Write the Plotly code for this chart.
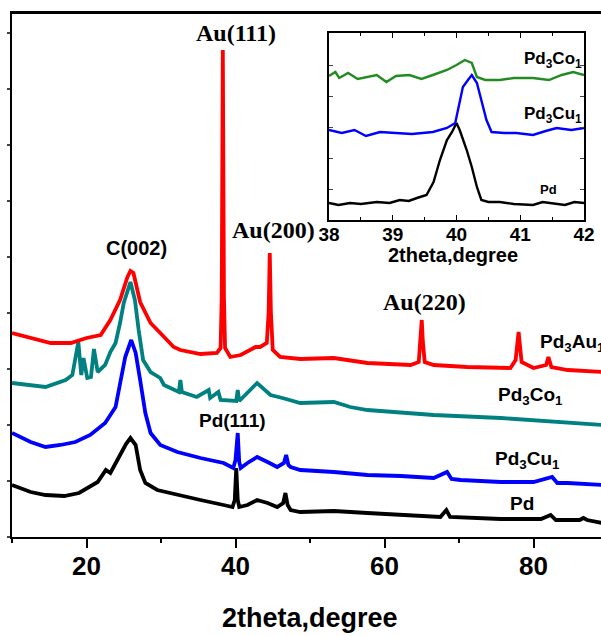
import plotly.graph_objects as go

# ---------------- main pattern data (2theta, intensity a.u., offset-stacked) ----------------
pd_x = [10, 11, 12.5, 14.5, 17, 19, 20.5, 21.5, 22.6, 23.2, 24, 24.6, 25.3, 25.9, 26.6, 27.2, 27.9,
        29.5, 32.2, 35.3, 38.4, 39.6, 39.9, 40.1, 40.3, 40.5, 41.6, 42.9, 44.3, 45.6, 46.4, 46.7,
        47.0, 47.4, 48.7, 53.2, 57.7, 62.2, 67.5, 68.3, 68.8, 75.6, 81, 82.3, 83, 86.2, 86.7, 87.2, 89.2]
pd_y = [52, 49, 45, 42, 41, 44, 51, 55, 67, 64, 75, 84, 93, 99, 92, 67, 54,
        47, 42, 37, 32, 30, 37, 69, 37, 30, 32, 37, 34, 30, 34, 44,
        32, 27, 25, 26, 24, 22, 20, 27, 20, 18, 18, 22, 17, 17, 19, 17, 14]

cu_x = [10, 12.5, 14.5, 16.5, 18.5, 20.5, 22.5, 23.9, 24.6, 25.2, 26.0, 26.6, 27.2, 27.9, 28.6,
        29.9, 32.2, 35.3, 38.4, 39.7, 40.0, 40.3, 40.5, 40.7, 41.6, 42.9, 44.3, 45.6, 46.5, 46.8,
        47.1, 47.4, 48.7, 53.2, 57.7, 62.2, 66.6, 68.4, 69, 70.2, 75.6, 80, 82.5, 83.2, 84.6, 89.2]
cu_y = [104, 95, 90, 92, 95, 102, 114, 130, 157, 180, 197, 184, 157, 124, 104,
        92, 85, 79, 74, 69, 77, 104, 75, 69, 74, 80, 75, 70, 74, 82,
        72, 70, 67, 65, 62, 61, 59, 65, 58, 57, 55, 55, 60, 54, 54, 52]

co_x = [10, 12, 14.5, 17.2, 18.1, 18.9, 19.3, 19.6, 20.1, 20.6, 21.0, 21.5, 22.5, 23.2, 23.9,
        24.5, 25.0, 25.9, 26.5, 27.0, 27.6, 28.6, 29.9, 30.4, 32.4, 32.6, 32.8, 34.8, 36.4,
        36.6, 37.7, 38.0, 40.1, 40.3, 40.5, 42.9, 44.7, 46.3, 48.7, 53.2, 55.4, 57.7, 62.2,
        66.6, 75.6, 84.6, 89.2]
co_y = [154, 152, 150, 157, 162, 195, 162, 179, 159, 160, 188, 165, 172, 185, 194,
        214, 234, 255, 237, 207, 177, 165, 159, 152, 145, 157, 145, 140, 147,
        139, 145, 137, 136, 147, 136, 154, 142, 139, 134, 135, 130, 127, 124,
        122, 119, 115, 112]

au_x = [10, 12.5, 15.2, 17.9, 20, 21.9, 23.2, 24.5, 25.5, 25.9, 26.3, 27.2, 28.6, 29.9, 31.7,
        32.6, 35.3, 37.5, 38.0, 38.15, 38.3, 38.45, 38.6, 39.3, 40.7, 42.7, 43.3, 44.2, 44.45,
        44.6, 44.75, 45.0, 46.0, 48.7, 53.2, 57.7, 63.5, 64.6, 64.85, 65.0, 65.15, 65.4, 66.6,
        71.1, 76.9, 77.6, 78.0, 78.4, 80, 81.7, 82.0, 82.4, 84.6, 89.2]
au_y = [204, 199, 194, 194, 199, 202, 217, 237, 260, 266, 264, 235, 214, 204, 190,
        187, 183, 184, 189, 240, 487, 240, 189, 180, 182, 190, 190, 194, 225,
        284, 225, 187, 180, 178, 179, 174, 172, 175, 195, 217, 195, 175, 172,
        170, 169, 177, 205, 175, 169, 172, 180, 170, 167, 165]

# ---------------- inset data (38-42 degrees) ----------------
in_pd_x = [38.0, 38.15, 38.33, 38.5, 38.75, 38.95, 39.11, 39.25, 39.38, 39.53, 39.64, 39.74,
           39.85, 39.93, 40.0, 40.05, 40.16, 40.24, 40.32, 40.39, 40.5, 40.68, 40.9, 41.2,
           41.35, 41.5, 41.7, 41.85, 42.0]
in_pd_y = [17, 15, 17, 16, 18, 17, 20, 19, 22, 25, 38, 60, 80, 88, 97, 90, 70, 53, 33, 20,
           18, 18, 16, 15, 18, 17, 15, 18, 17]

in_cu_x = [38.0, 38.2, 38.4, 38.58, 38.8, 39.11, 39.3, 39.63, 39.85, 39.98, 40.05, 40.1, 40.18,
           40.24, 40.32, 40.39, 40.47, 40.55, 40.75, 40.94, 41.2, 41.4, 41.57, 41.8, 42.0]
in_cu_y = [90, 87, 90, 84, 88, 87, 86, 88, 92, 97, 120, 133, 140, 145, 137, 120, 100, 88, 87,
           87, 85, 89, 92, 90, 92]

in_co_x = [38.0, 38.1, 38.16, 38.3, 38.45, 38.58, 38.75, 38.9, 39.05, 39.26, 39.45, 39.63,
           39.75, 39.85, 40.0, 40.13, 40.24, 40.32, 40.45, 40.68, 40.9, 41.2, 41.45, 41.65,
           41.83, 42.0]
in_co_y = [144, 148, 142, 147, 141, 143, 145, 138, 144, 145, 141, 145, 148, 150, 155, 160, 157,
           143, 140, 140, 142, 142, 140, 145, 148, 145]

main_ticks = [20, 40, 60, 80]
inset_ticks = [38, 39, 40, 41, 42]

RED = "rgb(255,0,0)"
TEAL = "rgb(0,128,128)"
BLUE = "rgb(0,0,255)"
BLACK = "rgb(0,0,0)"
GREEN = "rgb(34,139,34)"

fig = go.Figure()
for xs, ys, c in [(pd_x, pd_y, BLACK), (cu_x, cu_y, BLUE), (co_x, co_y, TEAL), (au_x, au_y, RED)]:
    fig.add_trace(go.Scatter(x=xs, y=ys, mode="lines", line=dict(color=c, width=3.8),
                             xaxis="x", yaxis="y", showlegend=False, hoverinfo="skip"))
for xs, ys, c in [(in_pd_x, in_pd_y, BLACK), (in_cu_x, in_cu_y, BLUE), (in_co_x, in_co_y, GREEN)]:
    fig.add_trace(go.Scatter(x=xs, y=ys, mode="lines", line=dict(color=c, width=2.4),
                             xaxis="x2", yaxis="y2", showlegend=False, hoverinfo="skip"))

W, H = 601, 636
L, T, B = 12, 13, 99
pw = W - L
ph = H - T - B

def px_x(p):  # pixel -> paper x
    return (p - L) / pw

def px_y(p):  # pixel -> paper y
    return (H - B - p) / ph

ARIAL = "Liberation Sans, Arial"
TIMES = "Liberation Serif, Times New Roman"

fig.update_layout(
    width=W, height=H, autosize=False,
    margin=dict(l=L, r=0, t=T, b=B, autoexpand=False),
    paper_bgcolor="white", plot_bgcolor="white",
    xaxis=dict(range=[10, 10 + pw / 7.45], domain=[0, 1], showgrid=False, zeroline=False,
               automargin=False,
               showline=True, linecolor="black", linewidth=2, mirror=True,
               tickmode="array", tickvals=main_ticks, ticks="outside", ticklen=9, tickwidth=2,
               tickcolor="black", ticklabelstandoff=-4,
               minor=dict(dtick=10, tick0=0, ticks="outside", ticklen=4, tickwidth=2, tickcolor="black"),
               tickfont=dict(family=ARIAL, size=26, color="black", weight="bold")),
    yaxis=dict(range=[0, ph], domain=[0, 1], showgrid=False, zeroline=False,
               automargin=False,
               showline=True, linecolor="black", linewidth=2,
               showticklabels=False, ticks="outside", ticklen=3, tickwidth=1.5,
               tick0=0, dtick=56),
    xaxis2=dict(range=[38, 42], domain=[px_x(329), px_x(584)], anchor="y2",
                automargin=False,
                showgrid=False, zeroline=False, showline=True, linecolor="black", linewidth=1.5,
                mirror="allticks", tickmode="array", tickvals=inset_ticks, ticks="inside",
                ticklen=5, tickwidth=1, tickcolor="black", ticklabelstandoff=-4,
                minor=dict(dtick=0.5, tick0=38, ticks="inside", ticklen=3, tickwidth=1, tickcolor="black"),
                tickfont=dict(family=ARIAL, size=19, color="black", weight="bold")),
    yaxis2=dict(range=[0, 187], domain=[px_y(220), px_y(33)], anchor="x2",
                automargin=False,
                showgrid=False, zeroline=False, showline=True, linecolor="black", linewidth=1.5,
                mirror="allticks", showticklabels=False, ticks="inside", ticklen=4,
                tickwidth=1, tick0=0, dtick=31),
    shapes=[dict(type="line", xref="paper", yref="paper", x0=0, x1=1, y0=1, y1=1,
                 line=dict(color="black", width=2))],
)

ann = []
def lab(text, x, y, size, fam=ARIAL, xref="x", yref="y", xanchor="center"):
    ann.append(dict(text=text, x=x, y=y, xref=xref, yref=yref, showarrow=False,
                    xanchor=xanchor, yanchor="middle",
                    font=dict(family=fam, size=size, color="black", weight="bold")))

# peak labels (main)
lab("Au(111)", 40.13, 504, 24, TIMES)
lab("C(002)", 26.71, 289, 20)
lab("Au(200)", 45.1, 307, 24, TIMES)
lab("Au(220)", 65.37, 235, 24, TIMES)
lab("Pd(111)", 39.6, 117, 19)
# sample labels (main)
lab("Pd<sub>3</sub>Au<sub>1</sub>", 80.54, 194, 19, xanchor="left")
lab("Pd<sub>3</sub>Co<sub>1</sub>", 74.9, 141, 19, xanchor="left")
lab("Pd<sub>3</sub>Cu<sub>1</sub>", 74.63, 77, 19, xanchor="left")
lab("Pd", 76.64, 34, 19, xanchor="left")
# inset labels
lab("Pd<sub>3</sub>Co<sub>1</sub>", 42.0, 160, 17, xref="x2", yref="y2", xanchor="right")
lab("Pd<sub>3</sub>Cu<sub>1</sub>", 42.0, 105, 17, xref="x2", yref="y2", xanchor="right")
lab("Pd", 41.45, 30, 13, xref="x2", yref="y2")
# axis titles
lab("2theta,degree", px_x(453), px_y(255), 20, xref="paper", yref="paper")
lab("2theta,degree", px_x(310), px_y(618), 27, xref="paper", yref="paper")

fig.update_layout(annotations=ann)
fig.write_html("out.html",
               config={"displayModeBar": False, "responsive": False},
               post_script="document.body.style.margin='0';document.body.style.overflow='hidden';")
